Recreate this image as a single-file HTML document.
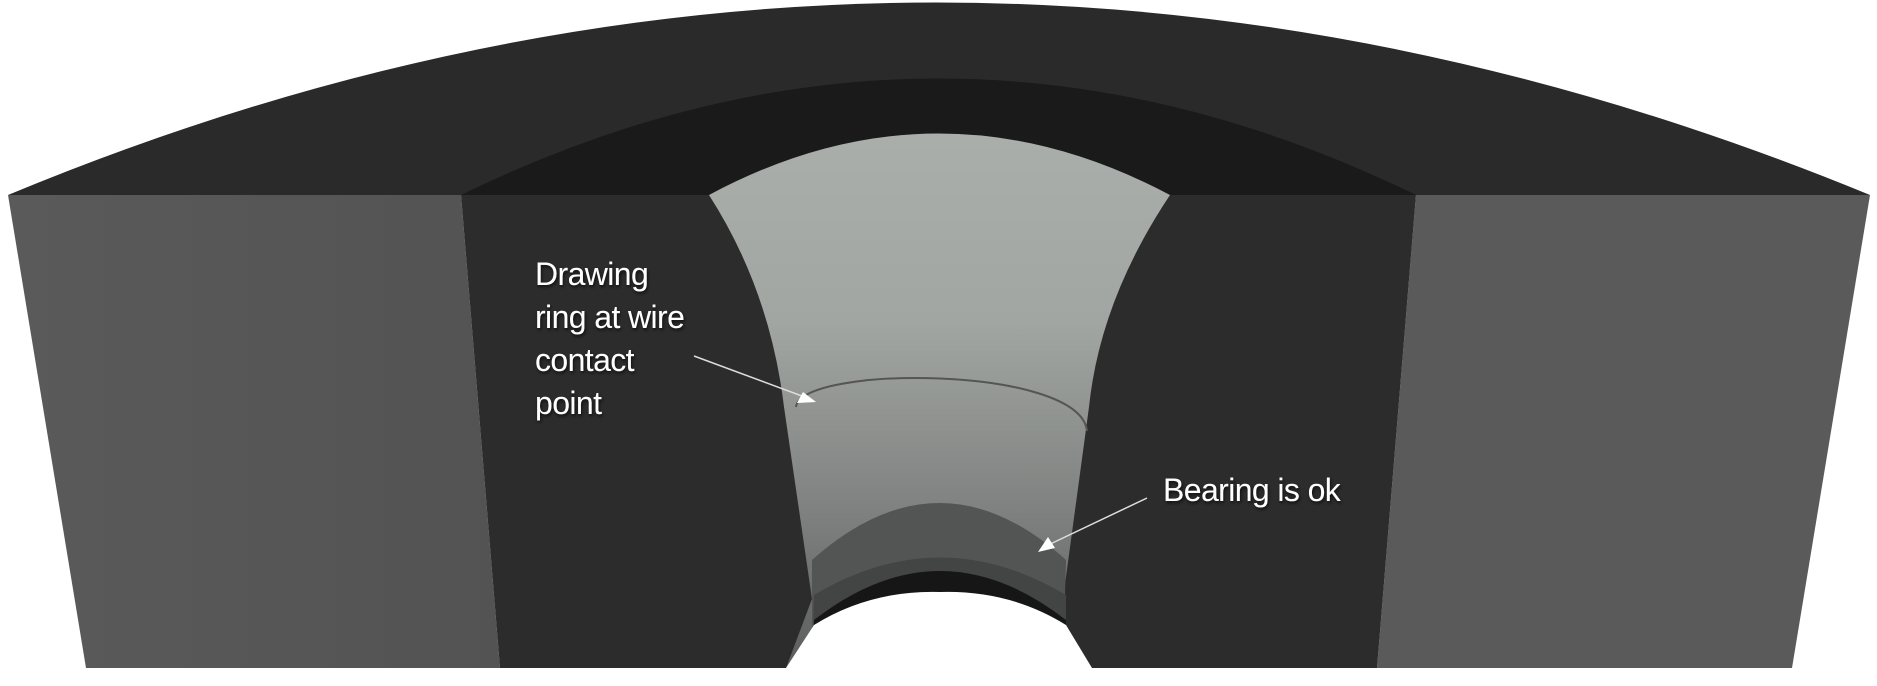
<!DOCTYPE html>
<html><head><meta charset="utf-8"><style>
html,body{margin:0;padding:0;background:#fff;}
svg{display:block;}
text{font-family:"Liberation Sans",sans-serif;font-size:32px;fill:#fff;letter-spacing:-0.6px;}
</style></head><body>
<svg width="1877" height="686" viewBox="0 0 1877 686" xmlns="http://www.w3.org/2000/svg">
<defs>
<linearGradient id="cone" x1="0" y1="0" x2="0" y2="1">
<stop offset="0" stop-color="#aaaeab"/>
<stop offset="0.35" stop-color="#a2a6a3"/>
<stop offset="0.7" stop-color="#7f8280"/>
<stop offset="1" stop-color="#5c5e5d"/>
</linearGradient>
<linearGradient id="lf" x1="0" y1="0" x2="1" y2="0">
<stop offset="0" stop-color="#5a5a5a"/><stop offset="1" stop-color="#535353"/>
</linearGradient>
<filter id="sh"><feDropShadow dx="1" dy="2" stdDeviation="1.5" flood-color="#000" flood-opacity="0.7"/></filter>
</defs>
<path d="M8,195 Q934,-190 1870,195 Z" fill="#2a2a2a"/>
<path d="M461,195 Q938,-38 1416,195 Z" fill="#1a1a1a"/>
<path d="M8,195 L461,195 L500,668 L86,668 Z" fill="url(#lf)"/>
<path d="M1416,195 L1870,195 L1792,668 L1377,668 Z" fill="#5a5a5a"/>
<path d="M461,195 L1416,195 L1377,668 L500,668 Z" fill="#2c2c2c"/>
<path d="M709,195 Q938,72 1170,195 Q1100,300 1089,407 L1063,599 L1068,668 L786,668 L812,599 L784,407 Q770,290 709,195 Z" fill="url(#cone)"/>
<path d="M812,560 Q940,446 1066,560 L1063,668 L812,668 Z" fill="#535554"/>
<path d="M814,595 Q940,520 1066,595 L1066,668 L812,668 Z" fill="#434544"/>
<path d="M814,620 Q940,522 1066,620 L1066,668 L812,668 Z" fill="#161616"/>
<path d="M786,668 L814,625 Q870,590 940,592 Q1010,590 1066,625 L1092,668 Z" fill="#fff"/>
<path d="M796,407 C800,365 1080,365 1087,431" fill="none" stroke="#555" stroke-width="2"/>
<line x1="694" y1="356" x2="810" y2="399" stroke="#ddd" stroke-width="1.5"/>
<path d="M816,402 L797,403 L803,392 Z" fill="#fff"/>
<line x1="1147" y1="498" x2="1044" y2="547" stroke="#ddd" stroke-width="1.5"/>
<path d="M1038,552 L1048,537 L1055,548 Z" fill="#fff"/>
<g filter="url(#sh)">
<text x="535" y="285">Drawing</text>
<text x="535" y="328">ring at wire</text>
<text x="535" y="371">contact</text>
<text x="535" y="414">point</text>
<text x="1163" y="501">Bearing is ok</text>
</g>
</svg>
</body></html>
